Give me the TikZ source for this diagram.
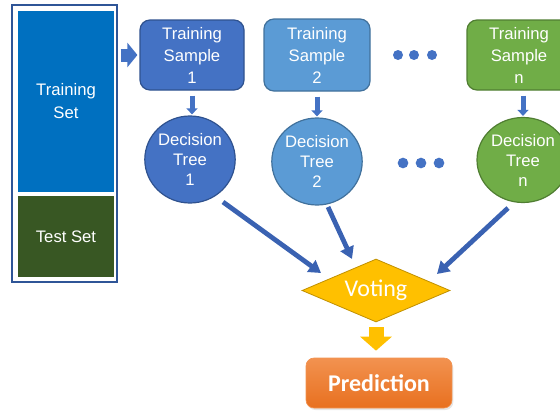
\documentclass[tikz,border=0pt]{standalone}
\usepackage{fontspec}
\setmainfont{Liberation Sans}
\newfontfamily\calibri{Carlito}
\usetikzlibrary{arrows.meta,shapes.geometric,shadows}
\definecolor{setblue}{HTML}{0070C0}
\definecolor{setgreen}{HTML}{385723}
\definecolor{framec}{HTML}{2F5597}
\definecolor{bA}{HTML}{4472C4}
\definecolor{bAd}{HTML}{2F528F}
\definecolor{bB}{HTML}{5B9BD5}
\definecolor{bBd}{HTML}{41719C}
\definecolor{gN}{HTML}{70AD47}
\definecolor{gNd}{HTML}{507E32}
\definecolor{gold}{HTML}{FFC000}
\definecolor{goldd}{HTML}{C09000}
\definecolor{connc}{HTML}{3A62B2}
\definecolor{orT}{HTML}{F29250}
\definecolor{orB}{HTML}{E8701F}
\tikzset{
  lbl/.style={text=white, align=center, inner sep=0pt, font={\fontsize{12.5pt}{16.5pt}\selectfont}},
  setbox/.style={lbl, rectangle, font={\fontsize{12.5pt}{17.25pt}\selectfont}},
  samplebox/.style={lbl, rectangle, rounded corners=7.5pt, line width=0.9pt},
  treenode/.style={lbl, ellipse, line width=0.9pt, font={\fontsize{12.5pt}{15pt}\selectfont}},
  downarrow/.style={draw=bA, line width=3.75pt, -{Triangle[length=4.5pt,width=8.25pt]}, shorten <=3.75pt, shorten >=0.75pt},
  connarrow/.style={draw=connc, line width=3.6pt, -{Triangle[length=9pt,width=10.5pt]}},
  dotc/.style={fill=bA}
}
\begin{document}
\begin{tikzpicture}[x=0.75pt,y=-0.75pt]
\useasboundingbox (0,0) rectangle (560,414);
\clip (0,0) rectangle (560,414);
% left container
\node[draw=framec, line width=1.1pt, minimum width=78.75pt, minimum height=207.75pt, inner sep=0pt] (frame) at (64.5,143.5) {};
\node[setbox, fill=setblue, minimum width=72pt, minimum height=135.75pt] (train) at (66,101.5) {Training\\Set};
\node[setbox, fill=setgreen, minimum width=72pt, minimum height=60.75pt] (test) at (66,236.5) {Test Set};
% samples
\node[samplebox, fill=bA, draw=bAd, minimum width=78pt, minimum height=52.5pt] (s1) at (192,55) {Training\\Sample\\1};
\node[samplebox, fill=bB, draw=bBd, minimum width=79.5pt, minimum height=54pt] (s2) at (317,55) {Training\\Sample\\2};
\node[samplebox, fill=gN, draw=gNd, minimum width=78pt, minimum height=52.5pt] (sn) at (519,55) {Training\\Sample\\n};
% trees
\node[treenode, fill=bA, draw=bAd, minimum width=63pt, minimum height=65.25pt] (t1) at (190,159.5) {Decision\\Tree\\1};
\node[treenode, fill=bB, draw=bBd, minimum width=67.5pt, minimum height=65.25pt] (t2) at (317,161.5) {Decision\\Tree\\2};
\node[treenode, fill=gN, draw=gNd, minimum width=69pt, minimum height=63.75pt] (tn) at (523,160) {Decision\\Tree\\n};
% dots
\fill[dotc] (398,55) circle[radius=3.75pt] (414,55) circle[radius=3.75pt] (432,55) circle[radius=3.75pt];
\fill[dotc] (403,163) circle[radius=4pt] (421,163) circle[radius=4pt] (439,163) circle[radius=4pt];
% voting and prediction
\node[diamond, aspect=2.35, fill=gold, draw=goldd, line width=0.6pt, inner sep=0pt, minimum width=111pt, minimum height=47.25pt, text=white, font={\calibri\fontsize{18pt}{20pt}\selectfont}] (vote) at (376,290.5) {Voting};
\node[rectangle, rounded corners=6pt, top color=orT, bottom color=orB, draw=orT, line width=0.5pt, minimum width=109.5pt, minimum height=37.5pt, inner sep=0pt, text=white, font={\calibri\bfseries\fontsize{18pt}{20pt}\selectfont}, drop shadow={opacity=0.2, shadow xshift=1pt, shadow yshift=-1.5pt}] (pred) at (379,383) {Prediction};
% arrows
\draw[draw=bA, line width=9.75pt, -{Triangle[length=7.5pt,width=18pt]}, shorten <=2.25pt, shorten >=1.5pt] (frame.east |- s1.west) -- (s1.west);
\draw[downarrow] (s1.south) -- (s1.south |- t1.north);
\draw[downarrow] (s2.south) -- (s2.south |- t2.north);
\draw[downarrow] (tn.north |- sn.south) -- (tn.north);
\coordinate (c1s) at (223,202);
\coordinate (c1e) at (321,273);
\coordinate (c2s) at (328,207);
\coordinate (c2e) at (352,259);
\coordinate (cns) at (508,208);
\coordinate (cne) at (437,274);
\draw[connarrow] (c1s) -- (c1e);
\draw[connarrow] (c2s) -- (c2e);
\draw[connarrow] (cns) -- (cne);
\draw[draw=gold, line width=11.25pt, -{Triangle[length=10.5pt,width=23.25pt]}, shorten <=3.75pt, shorten >=5.25pt] (vote.south) -- (vote.south |- pred.north);
\end{tikzpicture}
\end{document}
